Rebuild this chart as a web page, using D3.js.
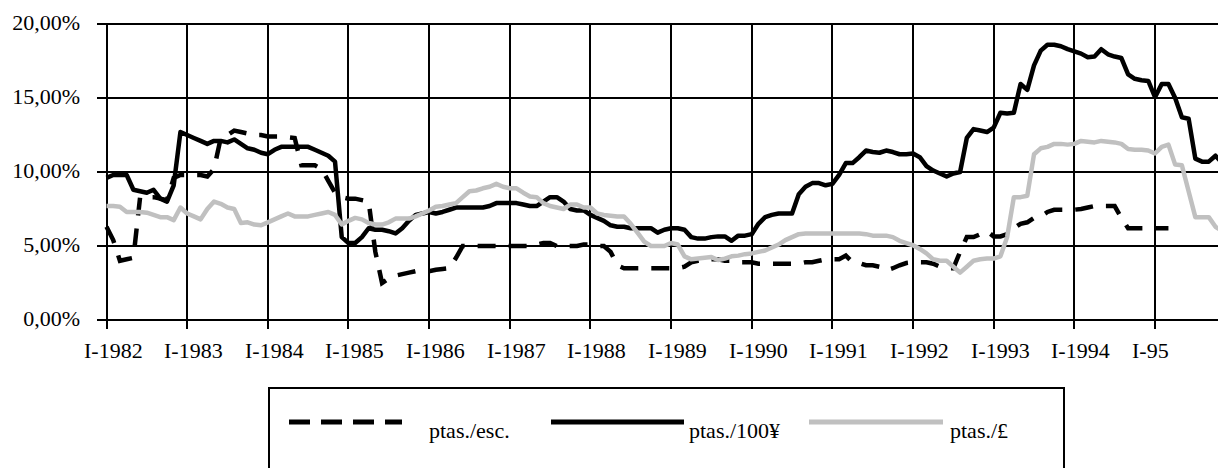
<!DOCTYPE html>
<html><head><meta charset="utf-8">
<script src="https://cdn.jsdelivr.net/npm/d3@7/dist/d3.min.js"></script>
<style>
body{margin:0;background:#fff;overflow:hidden;}
svg{display:block;}
text{font-family:"Liberation Serif","Times New Roman",serif;fill:#000;}
</style>
</head><body>
<svg id="chart" width="1218" height="468"></svg>
<script>
// Tick labels
const yearLabels = ["I-1982","I-1983","I-1984","I-1985","I-1986","I-1987","I-1988","I-1989","I-1990","I-1991","I-1992","I-1993","I-1994","I-95"];
const yTickValues = [0,5,10,15,20];
const seriesNames = ["ptas./esc.","ptas./100¥","ptas./£"];

// Monthly series (%), Jan 1982 onward
const esc = [
6.3,5.4,4.0,4.1,4.2,8.3,8.3,8.3,8.2,8.1,9.6,9.8,
9.8,9.8,9.8,9.7,10.2,12.3,12.5,12.8,12.7,12.6,12.5,12.5,
12.4,12.4,12.4,12.35,12.3,10.45,10.45,10.45,10.2,9.4,8.6,8.3,
8.2,8.2,8.1,8.0,4.6,2.5,2.8,3.0,3.1,3.2,3.3,3.3,
3.3,3.4,3.45,3.5,4.2,5.0,5.0,5.0,5.0,5.0,5.0,5.0,
5.0,5.0,5.0,5.0,5.1,5.2,5.2,5.0,5.0,5.0,5.0,5.1,
5.1,5.0,5.0,4.6,3.7,3.5,3.5,3.5,3.5,3.5,3.5,3.5,
3.5,3.5,3.6,3.9,4.0,4.1,4.1,4.1,4.0,4.0,3.9,3.9,
3.9,3.8,3.8,3.8,3.8,3.8,3.8,3.8,3.9,3.9,4.0,4.1,
4.1,4.1,4.35,3.9,3.85,3.7,3.7,3.6,3.35,3.5,3.7,3.85,
3.9,3.9,3.9,3.8,3.6,3.5,3.5,4.6,5.6,5.6,5.8,6.0,
5.65,5.65,5.8,6.2,6.5,6.6,6.9,7.0,7.3,7.45,7.45,7.45,
7.45,7.5,7.6,7.7,7.7,7.7,7.7,6.9,6.2,6.2,6.2,6.2,
6.2,6.2,6.2
];
const yen = [
9.6,9.8,9.8,9.8,8.8,8.7,8.6,8.8,8.2,8.0,9.1,12.7,
12.5,12.3,12.1,11.9,12.1,12.1,12.0,12.2,11.9,11.6,11.5,11.3,
11.2,11.5,11.7,11.7,11.7,11.7,11.7,11.5,11.3,11.1,10.7,5.6,
5.2,5.2,5.6,6.2,6.1,6.1,6.0,5.85,6.2,6.7,7.1,7.2,
7.3,7.2,7.3,7.45,7.6,7.6,7.6,7.6,7.6,7.7,7.9,7.9,
7.9,7.9,7.8,7.7,7.7,8.0,8.3,8.3,8.0,7.5,7.4,7.4,
7.1,6.9,6.7,6.4,6.3,6.3,6.2,6.2,6.2,6.2,5.9,6.1,
6.2,6.2,6.1,5.6,5.5,5.5,5.6,5.65,5.65,5.35,5.7,5.7,
5.8,6.5,6.95,7.1,7.2,7.2,7.2,8.5,9.0,9.25,9.25,9.1,
9.2,9.8,10.6,10.6,11.0,11.45,11.35,11.3,11.45,11.35,11.2,11.2,
11.25,11.0,10.4,10.1,9.9,9.7,9.9,10.0,12.3,12.9,12.8,12.7,
13.0,14.0,13.95,14.0,15.95,15.55,17.2,18.2,18.6,18.6,18.5,18.3,
18.15,18.0,17.75,17.8,18.3,17.95,17.8,17.7,16.6,16.3,16.2,16.15,
15.05,15.95,15.95,15.0,13.7,13.6,10.9,10.7,10.7,11.1,10.6
];
const gbp = [
7.7,7.7,7.65,7.3,7.3,7.3,7.25,7.1,6.95,6.95,6.75,7.6,
7.2,7.0,6.8,7.5,8.0,7.85,7.6,7.5,6.55,6.6,6.45,6.4,
6.6,6.8,7.0,7.2,7.0,7.0,7.0,7.1,7.2,7.3,7.1,6.45,
6.7,6.9,6.8,6.55,6.45,6.45,6.6,6.85,6.85,6.85,7.0,7.2,
7.4,7.65,7.7,7.8,7.9,8.3,8.7,8.75,8.9,9.0,9.2,9.0,
8.9,8.9,8.6,8.35,8.3,7.9,7.7,7.6,7.5,7.8,7.8,7.6,
7.6,7.2,7.1,7.05,7.0,7.0,6.5,5.9,5.3,5.0,5.0,5.0,
5.2,5.1,4.3,4.1,4.15,4.2,4.25,4.05,4.15,4.3,4.35,4.45,
4.5,4.6,4.7,4.9,5.1,5.4,5.6,5.8,5.85,5.85,5.85,5.85,
5.85,5.85,5.85,5.85,5.85,5.8,5.7,5.7,5.7,5.6,5.35,5.2,
5.05,4.8,4.5,4.1,4.0,4.0,3.6,3.2,3.6,4.0,4.1,4.15,
4.15,4.3,5.6,8.3,8.3,8.4,11.2,11.6,11.7,11.9,11.9,11.85,
11.9,12.1,12.05,12.0,12.1,12.05,12.0,11.9,11.55,11.5,11.5,11.45,
11.25,11.7,11.85,10.5,10.45,8.7,6.95,6.95,6.95,6.3,6.0
];

const svg = d3.select("#chart");
const W = 1218;
const x = d3.scaleLinear().domain([0, 156]).range([106.5, 1155]);
const y = d3.scaleLinear().domain([0, 20]).range([320, 24]);
const fmt = v => d3.format(".2f")(v).replace(".", ",") + "%";

// horizontal gridlines (extend left as tick marks)
const grid = svg.append("g").attr("shape-rendering","crispEdges");
grid.selectAll("line.h").data(yTickValues).join("line")
  .attr("x1", 97).attr("x2", W)
  .attr("y1", d => y(d)).attr("y2", d => y(d))
  .attr("stroke", "#000").attr("stroke-width", 2);
// vertical gridlines (extend below as tick marks)
const tickIdx = yearLabels.map((_, i) => i * 12);
grid.selectAll("line.v").data(tickIdx).join("line")
  .attr("x1", d => Math.round(x(d))).attr("x2", d => Math.round(x(d)))
  .attr("y1", y(20)).attr("y2", 329)
  .attr("stroke", "#000").attr("stroke-width", 2);
// thicker baseline
grid.append("line").attr("x1", 97).attr("x2", W).attr("y1", y(0)).attr("y2", y(0))
  .attr("stroke","#000").attr("stroke-width",2.5);

// y labels
svg.append("g").selectAll("text").data(yTickValues).join("text")
  .attr("x", 80).attr("y", d => y(d) + 6)
  .attr("text-anchor", "end").attr("font-size", 22)
  .text(fmt);

// x labels
svg.append("g").selectAll("text").data(tickIdx).join("text")
  .attr("x", d => Math.round(x(d)) - 23).attr("y", 358)
  .attr("text-anchor", "start").attr("font-size", 22)
  .text((d, i) => yearLabels[i]);

// lines
const line = d3.line().defined(d => d != null && !isNaN(d)).x((d, i) => x(i)).y(d => y(d));
const plot = svg.append("g");
plot.append("path").datum(esc).attr("d", line).attr("fill","none")
  .attr("stroke","#000").attr("stroke-width",4.5).attr("stroke-dasharray","18,13");
plot.append("path").datum(yen).attr("d", line).attr("fill","none")
  .attr("stroke","#000").attr("stroke-width",4.5).attr("stroke-linejoin","round");
plot.append("path").datum(gbp).attr("d", line).attr("fill","none")
  .attr("stroke","#c0c0c0").attr("stroke-width",4.5).attr("stroke-linejoin","round");

// legend
const lg = svg.append("g");
lg.append("rect").attr("x", 269).attr("y", 388).attr("width", 795).attr("height", 200)
  .attr("fill","#fff").attr("stroke","#000").attr("stroke-width",2);
const legendItems = [
  {name: seriesNames[0], x1: 289, x2: 402, tx: 429, color: "#000", dash: "21,11"},
  {name: seriesNames[1], x1: 551, x2: 684, tx: 689, color: "#000", dash: null},
  {name: seriesNames[2], x1: 809, x2: 943, tx: 950, color: "#c0c0c0", dash: null}
];
legendItems.forEach(it => {
  lg.append("line").attr("x1", it.x1).attr("x2", it.x2).attr("y1", 422).attr("y2", 422)
    .attr("stroke", it.color).attr("stroke-width", 5)
    .attr("stroke-dasharray", it.dash);
  lg.append("text").attr("x", it.tx).attr("y", 438).attr("font-size", 22).text(it.name);
});
</script>
</body></html>
